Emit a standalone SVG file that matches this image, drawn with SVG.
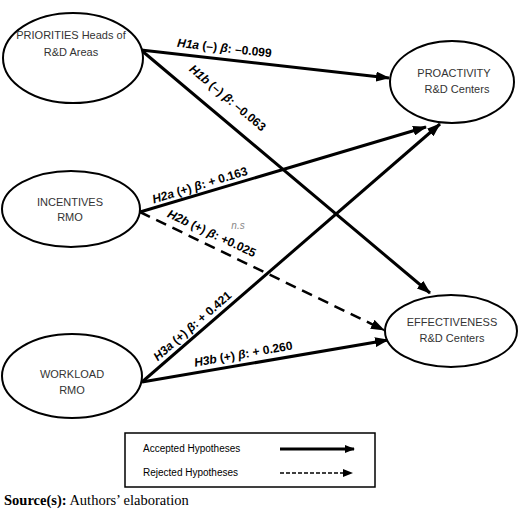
<svg xmlns="http://www.w3.org/2000/svg" width="520" height="513" viewBox="0 0 520 513">
<defs>
<marker id="ah" markerUnits="userSpaceOnUse" markerWidth="14" markerHeight="10" refX="13" refY="5" orient="auto">
<path d="M0,0 L14,5 L0,10 Z" fill="#000"/>
</marker>
<marker id="ahs" markerUnits="userSpaceOnUse" markerWidth="10" markerHeight="8" refX="9" refY="4" orient="auto">
<path d="M0,0 L10,4 L0,8 Z" fill="#000"/>
</marker>
<style>
.node ellipse{fill:#fff;stroke:#000;stroke-width:2}
.node text{font-family:"Liberation Sans",Arial,sans-serif;font-size:11px;fill:#333;text-anchor:middle}
.edge{fill:none;stroke:#000;stroke-width:3}
.dash{stroke-width:2.5;stroke-dasharray:11 7}
.lbl{font-family:"Liberation Sans",Arial,sans-serif;font-size:12px;font-weight:bold;fill:#000;text-anchor:middle}
.it{font-style:italic}
.ns{font-family:"Liberation Sans",Arial,sans-serif;font-size:10px;font-style:italic;fill:#888;text-anchor:middle}
.leg{font-family:"Liberation Sans",Arial,sans-serif;font-size:10px;fill:#000}
</style>
</defs>
<rect width="520" height="513" fill="#fff"/>
<g id="connectors">
<line class="edge" x1="141" y1="50" x2="389" y2="78" marker-end="url(#ah)"/>
<line class="edge" x1="141" y1="50" x2="430" y2="293" marker-end="url(#ah)"/>
<line class="edge" x1="140" y1="212" x2="426" y2="127" marker-end="url(#ah)"/>
<line class="edge dash" x1="140" y1="212" x2="384" y2="330" marker-end="url(#ah)"/>
<line class="edge" x1="142" y1="382" x2="440" y2="124" marker-end="url(#ah)"/>
<line class="edge" x1="142" y1="382" x2="388" y2="340" marker-end="url(#ah)"/>
<text class="lbl" transform="translate(224,52) rotate(6.4)"><tspan class="it">H1a</tspan> (–) <tspan class="it">β</tspan>: –0.099</text>
<text class="lbl" transform="translate(225,101) rotate(40)"><tspan class="it">H1b</tspan> (–) <tspan class="it">β</tspan>: –0.063</text>
<text class="lbl" transform="translate(201,189) rotate(-17)"><tspan class="it">H2a</tspan> (+) <tspan class="it">β</tspan>: + 0.163</text>
<text class="lbl" transform="translate(210,237) rotate(25)"><tspan class="it">H2b</tspan> (+) <tspan class="it">β</tspan>: +0.025</text>
<text class="ns" x="238" y="229">n.s</text>
<text class="lbl" transform="translate(195,329) rotate(-41)"><tspan class="it">H3a</tspan> (+) <tspan class="it">β</tspan>: + 0.421</text>
<text class="lbl" transform="translate(244,358) rotate(-10)"><tspan class="it">H3b</tspan> (+) <tspan class="it">β</tspan>: + 0.260</text>
</g>
<g id="priorities" class="node">
<ellipse cx="73" cy="58" rx="70" ry="45"/>
<text x="71" y="39">PRIORITIES Heads of</text>
<text x="71" y="56">R&amp;D Areas</text>
</g>
<g id="incentives" class="node">
<ellipse cx="71" cy="209" rx="69" ry="38"/>
<text x="70" y="206">INCENTIVES</text>
<text x="70" y="221">RMO</text>
</g>
<g id="workload" class="node">
<ellipse cx="72" cy="376" rx="70" ry="42"/>
<text x="72" y="378">WORKLOAD</text>
<text x="72" y="394">RMO</text>
</g>
<g id="proactivity" class="node">
<ellipse cx="452" cy="82" rx="62" ry="41"/>
<text x="454" y="77">PROACTIVITY</text>
<text x="457" y="93">R&amp;D Centers</text>
</g>
<g id="effectiveness" class="node">
<ellipse cx="451" cy="331" rx="66" ry="36"/>
<text x="452" y="326">EFFECTIVENESS</text>
<text x="452" y="342">R&amp;D Centers</text>
</g>
<g id="legend">
<rect x="125" y="433" width="250" height="54" fill="#fff" stroke="#000" stroke-width="1.5"/>
<text class="leg" x="143" y="452">Accepted Hypotheses</text>
<text class="leg" x="143" y="476">Rejected Hypotheses</text>
<line x1="280" y1="449" x2="354" y2="449" stroke="#000" stroke-width="3" marker-end="url(#ahs)"/>
<line x1="280" y1="473" x2="352" y2="473" stroke="#000" stroke-width="1.5" stroke-dasharray="4 2" marker-end="url(#ahs)"/>
</g>
<text x="4" y="505" font-family="'Liberation Serif','Times New Roman',serif" font-size="14.5" fill="#000"><tspan font-weight="bold">Source(s):</tspan> Authors’ elaboration</text>
</svg>
